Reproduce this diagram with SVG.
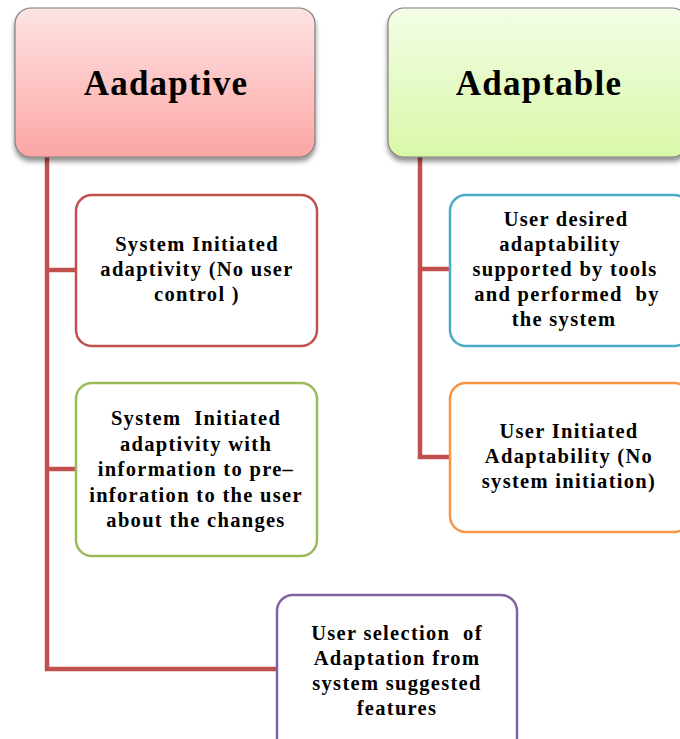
<svg xmlns="http://www.w3.org/2000/svg" width="680" height="739" viewBox="0 0 680 739">
  <defs>
    <linearGradient id="gradPink" x1="0" y1="0" x2="0" y2="1">
      <stop offset="0" stop-color="#fde3e3"/>
      <stop offset="1" stop-color="#fca6a4"/>
    </linearGradient>
    <linearGradient id="gradGreen" x1="0" y1="0" x2="0" y2="1">
      <stop offset="0" stop-color="#f3fde6"/>
      <stop offset="1" stop-color="#d9f8a8"/>
    </linearGradient>
    <filter id="shadow" x="-10%" y="-10%" width="120%" height="130%">
      <feGaussianBlur in="SourceAlpha" stdDeviation="2.5"/>
      <feOffset dx="0" dy="4" result="b"/>
      <feComponentTransfer><feFuncA type="linear" slope="0.45"/></feComponentTransfer>
      <feMerge><feMergeNode/><feMergeNode in="SourceGraphic"/></feMerge>
    </filter>
  </defs>
  <style>
    .title { font-family: "Liberation Serif", "Times New Roman", serif; font-weight: bold; font-size: 35px; letter-spacing: 1.2px; fill: #000; text-anchor: middle; }
    .body { font-family: "Liberation Serif", "Times New Roman", serif; font-weight: bold; font-size: 20.5px; letter-spacing: 1.3px; fill: #000; text-anchor: middle; white-space: pre; }
    .head { stroke: #7f7f7f; stroke-width: 1.2; }
    .leaf { fill: #ffffff; stroke-width: 2.5; }
    .conn { fill: none; stroke: #c0504d; stroke-width: 4.5; }
  </style>

  <rect width="680" height="739" fill="#ffffff"/>

  <!-- connectors -->
  <g id="connectors">
    <path class="conn" d="M47,155 V669 H278"/>
    <path class="conn" d="M47,270 H77"/>
    <path class="conn" d="M47,469 H77"/>
    <path class="conn" d="M420,155 V457 H451"/>
    <path class="conn" d="M420,269 H451"/>
  </g>

  <!-- top-level categories -->
  <g id="node-aadaptive">
    <rect class="head" x="15" y="8" width="300" height="149" rx="16" fill="url(#gradPink)" filter="url(#shadow)"/>
    <text class="title" x="166" y="95">Aadaptive</text>
  </g>
  <g id="node-adaptable">
    <rect class="head" x="388" y="8" width="300" height="149" rx="16" fill="url(#gradGreen)" filter="url(#shadow)"/>
    <text class="title" x="539" y="95">Adaptable</text>
  </g>

  <!-- adaptive branch -->
  <g id="node-system-initiated">
    <rect class="leaf" x="76" y="195" width="241" height="151" rx="16" stroke="#c0504d"/>
    <text class="body" x="197" y="251">System Initiated</text>
    <text class="body" x="197" y="276">adaptivity (No user</text>
    <text class="body" x="197" y="301">control )</text>
  </g>
  <g id="node-system-informed">
    <rect class="leaf" x="76" y="383" width="241" height="173" rx="16" stroke="#9bbb59"/>
    <text class="body" x="196" y="425">System  Initiated</text>
    <text class="body" x="196" y="451">adaptivity with</text>
    <text class="body" x="196" y="476">information to pre–</text>
    <text class="body" x="196" y="502">inforation to the user</text>
    <text class="body" x="196" y="527">about the changes</text>
  </g>
  <g id="node-user-selection">
    <rect class="leaf" x="277" y="595" width="240" height="160" rx="16" stroke="#8064a2"/>
    <text class="body" x="397" y="640">User selection  of</text>
    <text class="body" x="397" y="665">Adaptation from</text>
    <text class="body" x="397" y="690">system suggested</text>
    <text class="body" x="397" y="715">features</text>
  </g>

  <!-- adaptable branch -->
  <g id="node-user-desired">
    <rect class="leaf" x="450" y="195" width="240" height="151" rx="16" stroke="#4bacc6"/>
    <text class="body" x="566" y="226">User desired</text>
    <text class="body" x="560" y="251">adaptability</text>
    <text class="body" x="565" y="276">supported by tools</text>
    <text class="body" x="567" y="301">and performed  by</text>
    <text class="body" x="564" y="326">the system</text>
  </g>
  <g id="node-user-initiated">
    <rect class="leaf" x="450" y="383" width="240" height="149" rx="16" stroke="#f79646"/>
    <text class="body" x="569" y="438">User Initiated</text>
    <text class="body" x="569" y="463">Adaptability (No</text>
    <text class="body" x="569" y="488">system initiation)</text>
  </g>
</svg>
